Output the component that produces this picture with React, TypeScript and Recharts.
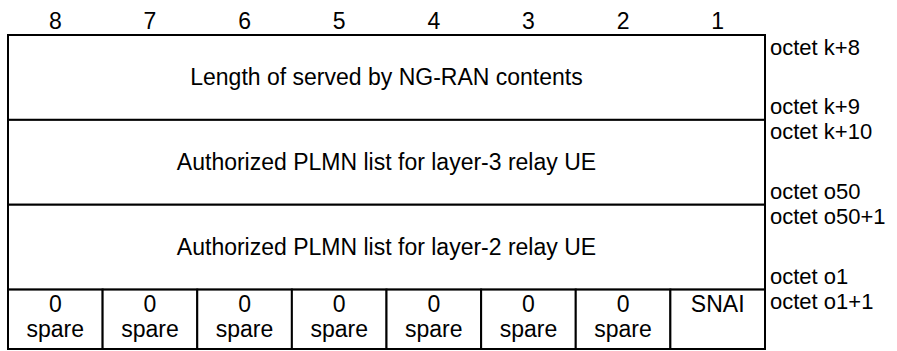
import React from "react";
import { ComposedChart, XAxis, YAxis, ReferenceArea, Scatter } from "recharts";

// bit positions shown above the table, left to right
const bitLabels = ["8", "7", "6", "5", "4", "3", "2", "1"];

// fields that span the whole octet width, one per row
const wideFields = [
  "Length of served by NG-RAN contents",
  "Authorized PLMN list for layer-3 relay UE",
  "Authorized PLMN list for layer-2 relay UE",
];

// last octet: one cell per bit (bit 8 .. bit 1)
const lastOctetValues = ["0", "0", "0", "0", "0", "0", "0", "SNAI"];
const lastOctetNames = ["spare", "spare", "spare", "spare", "spare", "spare", "spare", ""];

// octet labels on the right and where they sit (in row units)
const octetNames = [
  "octet k+8",
  "octet k+9",
  "octet k+10",
  "octet o50",
  "octet o50+1",
  "octet o1",
  "octet o1+1",
];
const octetPos = [0.14, 0.84, 1.135, 1.84, 2.135, 2.84, 3.135];

const FONT = "'Liberation Sans', Arial, sans-serif";
const FS = 23;
const FS_OCTET = 22;
const LAST_ROW_END = 3.7;

// anchor points so both axes get a scale
const anchors = [
  { x: 0, y: 0 },
  { x: 8, y: LAST_ROW_END },
];

function cellShape(top: string, bottom?: string, twoLine?: boolean) {
  return (p: any) => {
    const cx = p.x + p.width / 2;
    return (
      <g>
        <rect x={p.x} y={p.y} width={p.width} height={p.height} fill="#fff" stroke="#000" strokeWidth={2} />
        {twoLine ? (
          <text textAnchor="middle" fontFamily={FONT} fontSize={FS} fill="#000">
            <tspan x={cx} y={p.y + 22}>{top}</tspan>
            {bottom ? <tspan x={cx} y={p.y + 47}>{bottom}</tspan> : null}
          </text>
        ) : (
          <text x={cx} y={p.y + p.height / 2 + 8} textAnchor="middle" fontFamily={FONT} fontSize={FS} fill="#000">
            {top}
          </text>
        )}
      </g>
    );
  };
}

export default function App() {
  return (
    <div style={{ position: "absolute", left: 0, top: 0, background: "#fff" }}>
      <ComposedChart
        width={897}
        height={351}
        data={anchors}
        margin={{ top: 5, right: 0, left: 8, bottom: 2 }}
      >
        <XAxis
          xAxisId="bits"
          dataKey="x"
          orientation="top"
          type="number"
          domain={[0, 8]}
          ticks={bitLabels.map((_, i) => i + 0.5)}
          tickFormatter={(v: number) => bitLabels[Math.floor(v)]}
          interval={0}
          height={30}
          axisLine={false}
          tickLine={false}
          tickSize={0}
          tickMargin={6}
          tick={{ fill: "#000", fontSize: FS, fontFamily: FONT }}
          allowDataOverflow
        />
        <YAxis
          yAxisId="rows"
          dataKey="y"
          orientation="right"
          type="number"
          domain={[0, LAST_ROW_END]}
          reversed
          ticks={octetPos}
          tickFormatter={(v: number) => octetNames[octetPos.indexOf(v)]}
          interval={0}
          width={132}
          axisLine={false}
          tickLine={false}
          tickSize={0}
          tickMargin={5}
          tick={{ fill: "#000", fontSize: FS_OCTET, fontFamily: FONT, textAnchor: "start" }}
          allowDataOverflow
        />
        <Scatter
          xAxisId="bits"
          yAxisId="rows"
          dataKey="y"
          data={anchors}
          shape={() => <g />}
          isAnimationActive={false}
        />
        {wideFields.map((name, i) => (
          <ReferenceArea
            key={name}
            xAxisId="bits"
            yAxisId="rows"
            x1={0}
            x2={8}
            y1={i}
            y2={i + 1}
            ifOverflow="visible"
            shape={cellShape(name)}
          />
        ))}
        {lastOctetValues.map((v, i) => (
          <ReferenceArea
            key={"bit" + i}
            xAxisId="bits"
            yAxisId="rows"
            x1={i}
            x2={i + 1}
            y1={wideFields.length}
            y2={LAST_ROW_END}
            ifOverflow="visible"
            shape={cellShape(v, lastOctetNames[i], true)}
          />
        ))}
      </ComposedChart>
    </div>
  );
}
